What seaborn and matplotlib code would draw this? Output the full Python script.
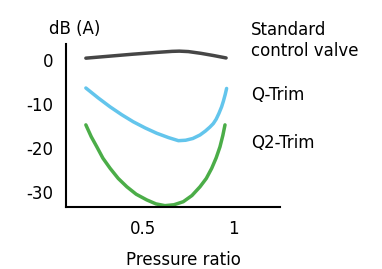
import pandas as pd
import seaborn as sns
import matplotlib.pyplot as plt

# values
std_x = [0.18, 0.31, 0.44, 0.57, 0.66, 0.70, 0.75, 0.82, 0.89, 0.96]
std_db = [0.4, 0.85, 1.3, 1.7, 1.95, 2.0, 1.9, 1.5, 1.0, 0.45]

q_x = [0.18, 0.25, 0.315, 0.38, 0.444, 0.51, 0.574, 0.64, 0.695, 0.735, 0.775, 0.815, 0.845, 0.87, 0.889, 0.905, 0.92, 0.935, 0.945, 0.955, 0.963]
q_db = [-6.4, -8.7, -10.7, -12.5, -14.1, -15.5, -16.7, -17.7, -18.4, -18.3, -17.9, -17.1, -16.2, -15.3, -14.5, -13.5, -12.2, -10.7, -9.4, -7.9, -6.5]

q2_x = [0.18, 0.21, 0.241, 0.275, 0.315, 0.36, 0.408, 0.46, 0.519, 0.57, 0.62, 0.67, 0.722, 0.77, 0.815, 0.85, 0.88, 0.905, 0.926, 0.942, 0.954]
q2_db = [-14.8, -17.5, -19.8, -22.4, -24.7, -27.0, -28.9, -30.6, -31.9, -32.8, -33.2, -33.0, -32.3, -30.9, -28.9, -27.0, -24.7, -22.3, -19.8, -17.2, -14.8]

names = ["Standard\ncontrol valve", "Q-Trim", "Q2-Trim"]
label_db = [4.5, -8.0, -19.0]
colors = ["#464646", "#63c5ec", "#4bad48"]

df = pd.concat([
    pd.DataFrame({"ratio": std_x, "db": std_db, "name": names[0]}),
    pd.DataFrame({"ratio": q_x, "db": q_db, "name": names[1]}),
    pd.DataFrame({"ratio": q2_x, "db": q2_db, "name": names[2]}),
], ignore_index=True)

sns.set_style("white")
plt.rcParams["font.family"] = ["DejaVu Sans"]
plt.rcParams["text.color"] = "black"

fig = plt.figure(figsize=(3.82, 2.69), dpi=100)
ax = fig.add_axes([0.173, 0.229, 0.56, 0.607])
sns.lineplot(data=df, x="ratio", y="db", hue="name", palette=colors,
             sort=False, linewidth=2.5, legend=False, ax=ax)

ax.set_xlim(0.07, 1.26)
ax.set_ylim(-33.6, 3.6)
ax.set_xticks([0.5, 1])
ax.set_xticklabels(["0.5", "1"])
ax.set_yticks([0, -10, -20, -30])
ax.set_yticklabels(["0", "-10", "-20", "-30"])
for s in ["top", "right"]:
    ax.spines[s].set_visible(False)
for s in ["left", "bottom"]:
    ax.spines[s].set_linewidth(1.5)
    ax.spines[s].set_color("black")
ax.tick_params(direction="inout", length=6, width=1.5, labelsize=12, pad=6,
               colors="black", labelcolor="black")
ax.set_xlabel("")
ax.set_ylabel("")

for n, yv in zip(names, label_db):
    ax.text(1.10, yv, n, fontsize=12, va="center", ha="left", linespacing=1.2, color="black")

fig.text(0.195, 0.892, "dB (A)", fontsize=12, ha="center", va="center", color="black")
fig.text(0.48, 0.035, "Pressure ratio", fontsize=12, ha="center", va="center", color="black")

fig.savefig("out.png", dpi=100)
